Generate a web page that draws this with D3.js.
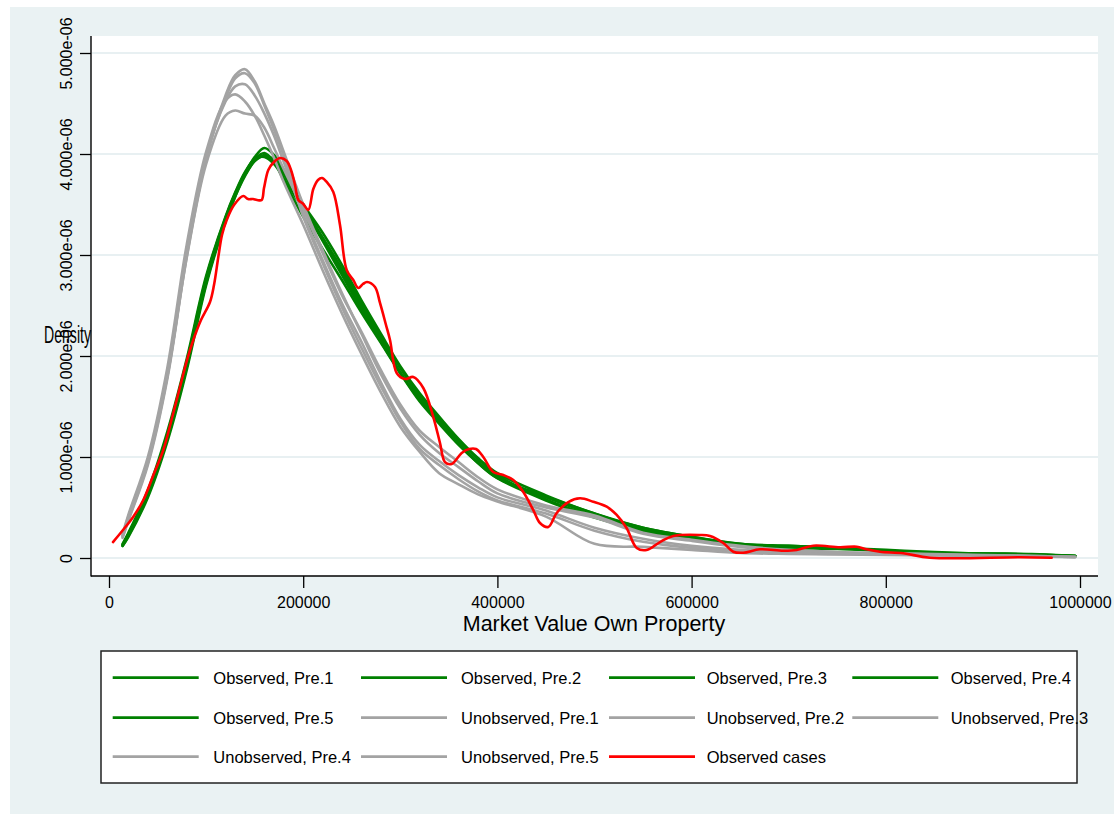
<!DOCTYPE html>
<html><head><meta charset="utf-8">
<script src="https://cdn.jsdelivr.net/npm/d3@7"></script>
<style>body{margin:0;background:#fff;} svg{display:block;font-family:"Liberation Sans",Arial,sans-serif;}</style>
</head><body><svg id="c" width="1114" height="814"></svg>
<script>
// ---- DATA (density values in units of 1e-06) ----
const gridX = [14000,20000,40000,60000,80000,100000,120000,130000,140000,150000,160000,170000,180000,200000,220000,240000,260000,280000,300000,320000,340000,360000,380000,400000,450000,500000,550000,600000,650000,700000,750000,800000,850000,900000,950000,995000];
const observedPre1 = [0.12,0.21,0.60,1.15,1.86,2.70,3.33,3.58,3.80,3.97,4.06,3.99,3.84,3.50,3.17,2.83,2.49,2.17,1.84,1.56,1.35,1.14,0.95,0.80,0.60,0.43,0.30,0.21,0.14,0.11,0.10,0.07,0.05,0.045,0.035,0.02];
const observedPre2 = [0.14,0.25,0.67,1.25,1.97,2.79,3.38,3.62,3.82,3.95,3.97,3.90,3.76,3.45,3.17,2.86,2.52,2.20,1.88,1.60,1.38,1.17,0.98,0.82,0.58,0.41,0.28,0.19,0.12,0.11,0.10,0.07,0.05,0.04,0.03,0.02];
const observedPre3 = [0.13,0.23,0.64,1.21,1.92,2.75,3.36,3.60,3.79,3.93,3.98,3.93,3.80,3.50,3.22,2.90,2.55,2.22,1.90,1.63,1.40,1.18,0.99,0.84,0.62,0.44,0.29,0.20,0.13,0.12,0.10,0.07,0.05,0.04,0.035,0.02];
const observedPre4 = [0.12,0.22,0.62,1.18,1.89,2.72,3.34,3.58,3.78,3.93,3.99,3.94,3.81,3.47,3.14,2.80,2.46,2.14,1.83,1.55,1.33,1.12,0.94,0.79,0.61,0.44,0.30,0.21,0.14,0.12,0.10,0.08,0.06,0.045,0.04,0.02];
const observedPre5 = [0.13,0.24,0.65,1.22,1.94,2.77,3.37,3.61,3.81,3.95,4.01,3.92,3.74,3.38,3.06,2.75,2.43,2.13,1.83,1.58,1.36,1.14,0.94,0.79,0.57,0.40,0.27,0.18,0.12,0.10,0.09,0.07,0.05,0.04,0.03,0.02];
const unobservedPre1 = [0.20,0.37,0.92,1.77,2.98,3.95,4.58,4.78,4.84,4.72,4.50,4.28,4.02,3.50,3.05,2.62,2.22,1.82,1.48,1.22,1.04,0.90,0.76,0.64,0.50,0.40,0.24,0.17,0.11,0.07,0.05,0.045,0.035,0.025,0.02,0.01];
const unobservedPre2 = [0.22,0.40,0.97,1.83,3.04,3.98,4.52,4.67,4.69,4.58,4.40,4.18,3.92,3.40,2.95,2.52,2.14,1.74,1.38,1.12,0.96,0.82,0.70,0.60,0.47,0.30,0.19,0.12,0.08,0.06,0.05,0.04,0.03,0.025,0.02,0.01];
const unobservedPre3 = [0.24,0.43,1.00,1.88,3.10,4.02,4.53,4.59,4.52,4.38,4.18,3.96,3.72,3.30,2.85,2.42,2.02,1.64,1.30,1.05,0.84,0.73,0.63,0.56,0.41,0.14,0.11,0.08,0.05,0.04,0.035,0.03,0.025,0.02,0.015,0.01];
const unobservedPre4 = [0.22,0.41,0.96,1.80,2.97,3.90,4.38,4.43,4.40,4.38,4.26,4.06,3.85,3.45,3.02,2.60,2.24,1.86,1.52,1.26,1.10,0.95,0.80,0.68,0.52,0.42,0.25,0.18,0.12,0.08,0.06,0.05,0.04,0.03,0.02,0.01];
const unobservedPre5 = [0.21,0.38,0.94,1.79,3.00,3.96,4.55,4.75,4.80,4.70,4.48,4.24,3.98,3.38,2.92,2.48,2.08,1.70,1.35,1.08,0.92,0.78,0.66,0.57,0.44,0.27,0.16,0.10,0.07,0.05,0.04,0.035,0.03,0.02,0.015,0.01];
const observedCasesX = [4120,14418,25026,35324,45314,55922,64882,73120,80330,86818,94748,104017,108136,112564,116375,121215,128733,138311,143151,148301,152420,157260,159629,164058,168898,176107,183007,187436,191555,194954,200103,205252,210402,215242,219361,224202,230999,237899,244799,251596,256746,261586,265705,273944,279094,285273,289392,296292,304840,313388,323687,333986,340886,346035,352935,363234,370752,377961,385479,395778,406076,416375,426674,436972,443872,452420,461071,473018,485067,498764,512564,522863,533162,543460,553759,567456,581154,608651,618950,632647,642945,653244,670443,694439,708239,725335,752832,770031,780330,794027,818023,845520,938208,970855];
const observedCasesY = [0.158,0.277,0.409,0.574,0.812,1.069,1.386,1.693,1.960,2.158,2.356,2.535,2.703,2.980,3.198,3.347,3.495,3.584,3.554,3.554,3.545,3.545,3.663,3.842,3.911,3.960,3.931,3.842,3.693,3.545,3.505,3.446,3.653,3.743,3.762,3.723,3.624,3.297,2.851,2.752,2.673,2.713,2.733,2.683,2.525,2.307,2.158,1.832,1.772,1.792,1.683,1.396,1.139,0.950,0.931,1.040,1.079,1.079,1.000,0.851,0.822,0.772,0.653,0.475,0.347,0.307,0.446,0.554,0.591,0.557,0.508,0.426,0.294,0.099,0.079,0.158,0.218,0.228,0.218,0.149,0.062,0.052,0.086,0.072,0.079,0.122,0.106,0.112,0.086,0.062,0.047,0.003,0.007,0.003];
const xTicks = [0,200000,400000,600000,800000,1000000];
const yTicks = [0,1,2,3,4,5];
const seriesNames = ["Observed, Pre.1","Observed, Pre.2","Observed, Pre.3","Observed, Pre.4","Observed, Pre.5","Unobserved, Pre.1","Unobserved, Pre.2","Unobserved, Pre.3","Unobserved, Pre.4","Unobserved, Pre.5","Observed cases"];
const xTitle = "Market Value Own Property";
const yTitle = "Density";

// ---- DRAW ----
const GREEN="#008000", GRAY="#a3a3a3", RED="#ff0000";
const series = [
  {name:seriesNames[0], xs:gridX, ys:observedPre1, c:GREEN},
  {name:seriesNames[1], xs:gridX, ys:observedPre2, c:GREEN},
  {name:seriesNames[2], xs:gridX, ys:observedPre3, c:GREEN},
  {name:seriesNames[3], xs:gridX, ys:observedPre4, c:GREEN},
  {name:seriesNames[4], xs:gridX, ys:observedPre5, c:GREEN},
  {name:seriesNames[5], xs:gridX, ys:unobservedPre1, c:GRAY},
  {name:seriesNames[6], xs:gridX, ys:unobservedPre2, c:GRAY},
  {name:seriesNames[7], xs:gridX, ys:unobservedPre3, c:GRAY},
  {name:seriesNames[8], xs:gridX, ys:unobservedPre4, c:GRAY},
  {name:seriesNames[9], xs:gridX, ys:unobservedPre5, c:GRAY},
  {name:seriesNames[10], xs:observedCasesX, ys:observedCasesY, c:RED}
];
const svg = d3.select("#c");
const W=1114,H=814;
svg.append("rect").attr("width",W).attr("height",H).attr("fill","#fff");
svg.append("rect").attr("x",10).attr("y",7).attr("width",W-10).attr("height",H-7).attr("fill","#eaf2f3");
const PL=91, PR=1098, PT=36, PB=576;
svg.append("rect").attr("x",PL).attr("y",PT).attr("width",PR-PL).attr("height",PB-PT).attr("fill","#fff");

const x = d3.scaleLinear().domain([0,1e6]).range([109,1080]);
const y = d3.scaleLinear().domain([0,5]).range([558,53]);

svg.append("g").selectAll("line").data(yTicks).join("line")
  .attr("x1",PL+1).attr("x2",PR).attr("y1",d=>y(d)).attr("y2",d=>y(d))
  .attr("stroke","#e8f0f2").attr("stroke-width",2.2);

const plot = svg.append("g");
series.forEach(s=>{
  const pts = s.xs.map((v,i)=>[v,s.ys[i]]);
  const line = d3.line().x(d=>x(d[0])).y(d=>y(d[1])).curve(d3.curveCatmullRom.alpha(0.5));
  plot.append("path").datum(pts).attr("d",line).attr("fill","none")
     .attr("stroke",s.c).attr("stroke-width",2.6).attr("stroke-linejoin","round").attr("stroke-linecap","round");
});

// axes
const yAxis = d3.axisLeft(y).tickValues(yTicks).tickSize(11)
  .tickFormat(d=> d===0 ? "0" : d.toFixed(3)+"e-06");
const gy = svg.append("g").attr("transform",`translate(${PL},0)`).call(yAxis);
gy.select(".domain").remove();
gy.selectAll(".tick line").attr("stroke","#000").attr("stroke-width",1.3);
gy.selectAll(".tick text").attr("x",0).attr("dy",null).attr("y",0)
  .attr("transform","translate(-19,0) rotate(-90)").attr("text-anchor","middle")
  .attr("font-size",16).attr("fill","#000").attr("font-family","Liberation Sans, Arial, sans-serif");

const xAxis = d3.axisBottom(x).tickValues(xTicks).tickSize(12).tickFormat(d=>String(d));
const gx = svg.append("g").attr("transform",`translate(0,${PB})`).call(xAxis);
gx.select(".domain").remove();
gx.selectAll(".tick line").attr("stroke","#000").attr("stroke-width",1.3);
gx.selectAll(".tick text").attr("y",32).attr("dy",null).attr("font-size",16).attr("fill","#000")
  .attr("font-family","Liberation Sans, Arial, sans-serif");

svg.append("line").attr("x1",PL).attr("x2",PL).attr("y1",PT).attr("y2",PB+0.6).attr("stroke","#000").attr("stroke-width",1.4);
svg.append("line").attr("x1",PL).attr("x2",PR).attr("y1",PB).attr("y2",PB).attr("stroke","#000").attr("stroke-width",1.4);

svg.append("text").attr("x",594).attr("y",631).attr("text-anchor","middle").attr("font-size",21.5).text(xTitle);
svg.append("text").attr("x",44).attr("y",343).attr("font-size",23).attr("textLength",47).attr("lengthAdjust","spacingAndGlyphs").text(yTitle);

// legend
svg.append("rect").attr("x",101).attr("y",651).attr("width",976).attr("height",132)
  .attr("fill","#fff").attr("stroke","#222").attr("stroke-width",1.5);
const colLineX=[112.7,361,609,852.3], colTextX=[213.3,461,706.7,950.7], rowY=[677.7,717.7,756.7];
const lg = svg.append("g").selectAll("g").data(series).join("g");
lg.append("line")
  .attr("x1",(d,i)=>colLineX[i%4]).attr("x2",(d,i)=>colLineX[i%4]+86)
  .attr("y1",(d,i)=>rowY[Math.floor(i/4)]).attr("y2",(d,i)=>rowY[Math.floor(i/4)])
  .attr("stroke",d=>d.c).attr("stroke-width",2.8);
lg.append("text").attr("x",(d,i)=>colTextX[i%4]).attr("y",(d,i)=>rowY[Math.floor(i/4)]+6.5)
  .attr("font-size",16.5).attr("fill","#000").text(d=>d.name);
</script></body></html>
